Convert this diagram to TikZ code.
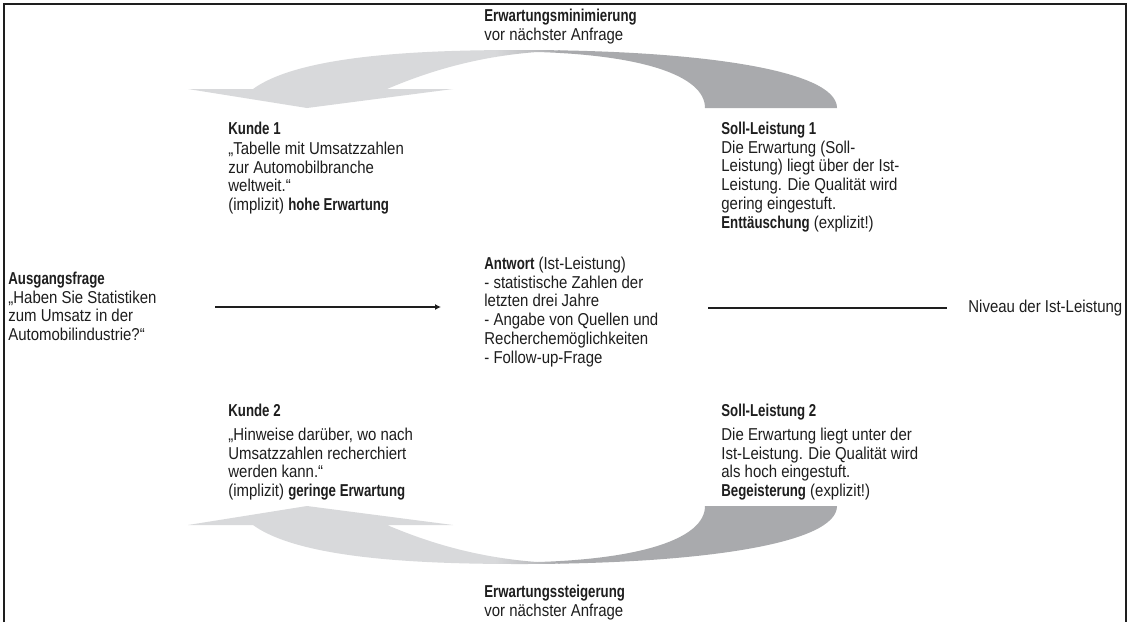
\documentclass[tikz,border=0pt]{standalone}
\usepackage{fontspec}
\setmainfont{Liberation Sans}[FakeStretch=0.87, BoldFeatures={FakeStretch=0.77}]
\usetikzlibrary{arrows.meta}
\definecolor{lightarrow}{HTML}{D8D9DB}
\definecolor{darkarrow}{HTML}{A9AAAD}
\definecolor{ink}{HTML}{1E1E1E}
\newcommand{\bigarrowpath}{(307,108) -- (188,89) -- (253,89) .. controls (300,55) and (420,50) .. (520,50) .. controls (700,50) and (837,70) .. (837,108) -- (705,108) .. controls (705,75) and (640,55) .. (537,52) .. controls (470,57) and (420,75) .. (387,89) -- (453,89) -- cycle}
\newcommand{\bigarrowfill}{%
  \begin{scope}
    \clip \bigarrowpath;
    \fill[lightarrow] (150,40) rectangle (497,120);
    \shade[left color=lightarrow,right color=darkarrow] (495,40) rectangle (560,120);
    \fill[darkarrow] (558,40) rectangle (850,120);
  \end{scope}}
\begin{document}
\begin{tikzpicture}[x=0.5pt,y=-0.5pt,
  txt/.style={anchor=north west, inner sep=0pt, align=left, font=\fontsize{8.6}{9.4}\selectfont, text=ink},
  conn/.style={draw=ink, line width=0.65pt}]
\useasboundingbox (0,0) rectangle (1128,622);
\fill[white] (0,0) rectangle (1128,622);
\draw[ink, line width=0.8pt] (4,622) -- (4,4) -- (1126,4) -- (1126,622);
% big arrows
\bigarrowfill
\begin{scope}[shift={(0,614)}, yscale=-1]
  \bigarrowfill
\end{scope}
% texts
\node[txt] (top) at (484,8.5) {\textbf{Erwartungsminimierung}\\vor nächster Anfrage};
\node[txt] (k1) at (228,121.5) {\textbf{Kunde 1}\\[0.6pt]„Tabelle mit Umsatzzahlen\\zur Automobilbranche\\weltweit.“\\(implizit) \textbf{hohe Erwartung}};
\node[txt] (s1) at (721,121.5) {\textbf{Soll-Leistung 1}\\Die Erwartung (Soll-\\Leistung) liegt über der Ist-\\Leistung. Die Qualität wird\\gering eingestuft.\\\textbf{Enttäuschung} (explizit!)};
\node[txt] (af) at (8,271.5) {\textbf{Ausgangsfrage}\\„Haben Sie Statistiken\\zum Umsatz in der\\Automobilindustrie?“};
\node[txt] (ant) at (484,256.5) {\textbf{Antwort} (Ist-Leistung)\\- statistische Zahlen der\\letzten drei Jahre\\- Angabe von Quellen und\\Recherchemöglichkeiten\\- Follow-up-Frage};
\node[txt, anchor=west] (niv) at (968,308) {Niveau der Ist-Leistung};
\node[txt] (k2) at (228,403.5) {\textbf{Kunde 2}\\[2.6pt]„Hinweise darüber, wo nach\\Umsatzzahlen recherchiert\\werden kann.“\\(implizit) \textbf{geringe Erwartung}};
\node[txt] (s2) at (721,403.5) {\textbf{Soll-Leistung 2}\\[2.6pt]Die Erwartung liegt unter der\\Ist-Leistung. Die Qualität wird\\als hoch eingestuft.\\\textbf{Begeisterung} (explizit!)};
\node[txt] (bot) at (484,584.5) {\textbf{Erwartungssteigerung}\\vor nächster Anfrage};
% connectors
\coordinate (a1) at (215,307);
\coordinate (a2) at (441,307);
\coordinate (n1) at (708,308);
\coordinate (n2) at (947,308);
\draw[conn, -{Latex[length=3pt,width=3pt]}] (a1) -- (a2);
\draw[conn] (n1) -- (n2);
\end{tikzpicture}
\end{document}
